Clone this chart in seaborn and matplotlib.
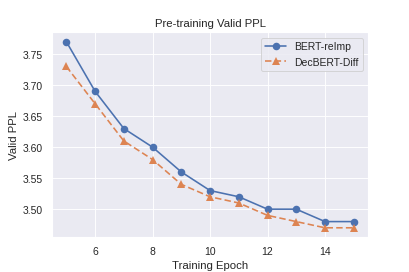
import matplotlib
matplotlib.use("Agg")
import matplotlib.pyplot as plt
import seaborn as sns
import pandas as pd

epochs = [5, 6, 7, 8, 9, 10, 11, 12, 13, 14, 15]
bert_reimp = [3.77, 3.69, 3.63, 3.60, 3.56, 3.53, 3.52, 3.50, 3.50, 3.48, 3.48]
decbert_diff = [3.73, 3.67, 3.61, 3.58, 3.54, 3.52, 3.51, 3.49, 3.48, 3.47, 3.47]

sns.set_theme(style="darkgrid")
plt.rcParams["font.family"] = ["Liberation Sans", "DejaVu Sans"]

df = pd.DataFrame({
    "epoch": epochs * 2,
    "ppl": bert_reimp + decbert_diff,
    "model": ["BERT-reImp"] * len(epochs) + ["DecBERT-Diff"] * len(epochs),
})

fig, ax = plt.subplots(figsize=(6, 4), dpi=409 / 6)
fig.subplots_adjust(left=0.127, right=0.9, top=0.879, bottom=0.128)
sns.lineplot(data=df, x="epoch", y="ppl", hue="model", style="model",
             markers=["o", "^"], dashes=[(None, None), (4, 2)],
             markersize=8, markeredgewidth=0, linewidth=1.7, ax=ax)
ax.set_title("Pre-training Valid PPL")
ax.set_xlabel("Training Epoch")
ax.set_ylabel("Valid PPL")
ax.legend(title=None, loc="upper right")

fig.savefig("out.png", dpi=409 / 6)
